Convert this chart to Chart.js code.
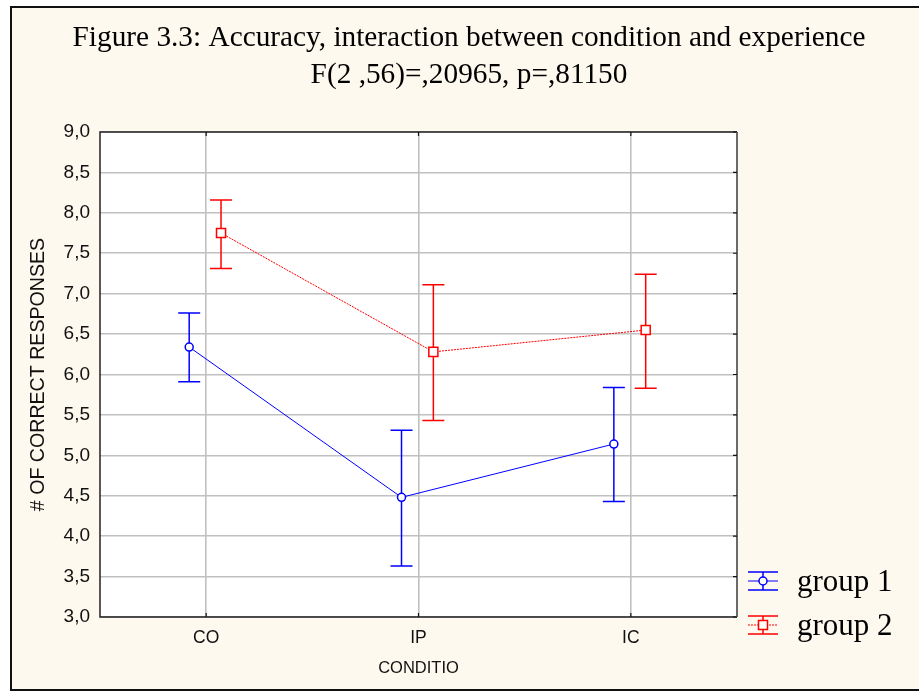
<!DOCTYPE html>
<html><head><meta charset="utf-8">
<script src="https://cdn.jsdelivr.net/npm/chart.js@4/dist/chart.umd.min.js"></script>
<style>html,body{margin:0;padding:0;background:#fff;overflow:hidden}</style>
</head><body>
<canvas id="c" width="919" height="691" style="display:block;width:919px;height:691px"></canvas>
<script>
// ---- data ----
const categories = ['CO', 'IP', 'IC'];
const seriesNames = ['group 1', 'group 2'];
const group1Mean  = [6.34, 4.48, 5.14];
const group1Upper = [6.76, 5.31, 5.84];
const group1Lower = [5.91, 3.63, 4.43];
const group2Mean  = [7.75, 6.28, 6.55];
const group2Upper = [8.16, 7.11, 7.24];
const group2Lower = [7.31, 5.43, 5.83];
const yTickLabels = ['3,0','3,5','4,0','4,5','5,0','5,5','6,0','6,5','7,0','7,5','8,0','8,5','9,0'];
const titleLines = ['Figure 3.3: Accuracy, interaction between condition and experience', 'F(2 ,56)=,20965, p=,81150'];
const xAxisTitle = 'CONDITIO';
const yAxisTitle = '# OF CORRECT RESPONSES';

// ---- style ----
const BLUE = '#0000ff', RED = '#ff0000';
const dodge = [-0.08, 0.07];
const colors = [BLUE, RED];
const lowers = [group1Lower, group2Lower];
const uppers = [group1Upper, group2Upper];
const means = [group1Mean, group2Mean];

const pagePlugin = {
  id: 'page',
  beforeDraw(chart) {
    const ctx = chart.ctx, a = chart.chartArea;
    ctx.save();
    ctx.fillStyle = '#ffffff';
    ctx.fillRect(0, 0, chart.width, chart.height);
    ctx.fillStyle = '#fef9ee';
    ctx.fillRect(11, 7, chart.width - 11, chart.height - 7);
    ctx.strokeStyle = '#111';
    ctx.lineWidth = 2;
    ctx.beginPath();
    ctx.moveTo(chart.width + 2, 7); ctx.lineTo(11, 7); ctx.lineTo(11, 690); ctx.lineTo(chart.width + 2, 690);
    ctx.stroke();
    ctx.fillStyle = '#ffffff';
    ctx.fillRect(a.left, a.top, a.right - a.left, a.bottom - a.top);
    ctx.restore();
  },
  beforeDatasetsDraw(chart) {
    const ctx = chart.ctx, xs = chart.scales.x, ys = chart.scales.y;
    ctx.save();
    ctx.lineWidth = 1.5;
    means.forEach((m, s) => {
      ctx.strokeStyle = colors[s];
      categories.forEach((c, i) => {
        const x = xs.getPixelForValue(i + dodge[s]);
        const yl = ys.getPixelForValue(lowers[s][i]);
        const yu = ys.getPixelForValue(uppers[s][i]);
        ctx.beginPath();
        ctx.moveTo(x, yl); ctx.lineTo(x, yu);
        ctx.moveTo(x - 11, yl); ctx.lineTo(x + 11, yl);
        ctx.moveTo(x - 11, yu); ctx.lineTo(x + 11, yu);
        ctx.stroke();
      });
    });
    ctx.restore();
  },
  afterDraw(chart) {
    const ctx = chart.ctx, a = chart.chartArea, xs = chart.scales.x, ys = chart.scales.y;
    ctx.save();
    // plot frame
    ctx.lineWidth = 1.5;
    ctx.strokeStyle = '#222';
    ctx.beginPath();
    ctx.moveTo(a.right, a.top); ctx.lineTo(a.left, a.top); ctx.lineTo(a.left, a.bottom); ctx.lineTo(a.right, a.bottom);
    ctx.stroke();
    ctx.strokeStyle = '#6a6a6a';
    ctx.lineWidth = 2;
    ctx.beginPath(); ctx.moveTo(a.right, a.top); ctx.lineTo(a.right, a.bottom); ctx.stroke();
    // inner tick marks
    ctx.strokeStyle = '#111'; ctx.lineWidth = 1.2;
    ctx.beginPath();
    categories.forEach((c, i) => {
      const x = xs.getPixelForValue(i);
      ctx.moveTo(x, a.bottom); ctx.lineTo(x, a.bottom - 4);
      ctx.moveTo(x, a.top); ctx.lineTo(x, a.top + 4);
    });
    yTickLabels.forEach((t, i) => {
      const y = ys.getPixelForValue(3 + i * 0.5);
      ctx.moveTo(a.right, y); ctx.lineTo(a.right - 4, y);
    });
    ctx.stroke();
    // legend
    const lx0 = 748, lx1 = 778, ly = [581, 625];
    seriesNames.forEach((name, s) => {
      const y = ly[s], cx = (lx0 + lx1) / 2;
      ctx.strokeStyle = colors[s];
      ctx.lineWidth = 1.5;
      ctx.setLineDash([]);
      ctx.beginPath();
      ctx.moveTo(lx0, y - 9); ctx.lineTo(lx1, y - 9);
      ctx.moveTo(lx0, y + 9); ctx.lineTo(lx1, y + 9);
      ctx.moveTo(cx, y - 9); ctx.lineTo(cx, y + 9);
      ctx.stroke();
      ctx.lineWidth = 1;
      if (s === 1) ctx.setLineDash([2, 1]);
      ctx.beginPath(); ctx.moveTo(lx0, y); ctx.lineTo(lx1, y); ctx.stroke();
      ctx.setLineDash([]);
      ctx.lineWidth = 1.5;
      ctx.fillStyle = '#fff';
      ctx.beginPath();
      if (s === 0) ctx.arc(cx, y, 4, 0, Math.PI * 2);
      else ctx.rect(cx - 4.5, y - 4.5, 9, 9);
      ctx.fill(); ctx.stroke();
      ctx.fillStyle = '#000';
      ctx.font = '31px "Liberation Serif", "Times New Roman", serif';
      ctx.textBaseline = 'middle';
      ctx.textAlign = 'left';
      ctx.fillText(name, 797, y + 2);
    });
    ctx.restore();
  }
};

const datasets = seriesNames.map((name, s) => ({
  label: name,
  data: categories.map((c, i) => ({ x: i + dodge[s], y: means[s][i] })),
  borderColor: colors[s],
  backgroundColor: '#ffffff',
  borderWidth: 1,
  borderDash: s === 1 ? [2, 1] : [],
  pointStyle: s === 0 ? 'circle' : 'rect',
  pointRadius: s === 0 ? 4 : 6.4,
  pointBorderWidth: 1.5,
  pointBackgroundColor: '#ffffff',
  pointBorderColor: colors[s],
  tension: 0,
  fill: false
}));

new Chart(document.getElementById('c'), {
  type: 'line',
  data: { datasets },
  plugins: [pagePlugin],
  options: {
    responsive: false,
    animation: false,
    devicePixelRatio: 1,
    layout: { padding: { left: 19, right: 0, top: 0, bottom: 0 } },
    plugins: {
      legend: { display: false },
      tooltip: { enabled: false },
      title: {
        display: true,
        text: titleLines,
        color: '#000',
        font: { family: '"Liberation Serif", "Times New Roman", serif', size: 29.3, weight: 'normal', lineHeight: 1.263 },
        padding: { top: 20, bottom: 38 }
      }
    },
    scales: {
      x: {
        type: 'linear',
        min: -0.5, max: 2.5,
        afterBuildTicks: (sc) => { sc.ticks = categories.map((c, i) => ({ value: i })); },
        afterFit: (sc) => { sc.height = 74; },
        grid: { color: '#c0c0c0', lineWidth: 1.6, drawTicks: false },
        border: { display: false },
        ticks: {
          padding: 11,
          color: '#111',
          font: { family: '"Liberation Sans", Arial, sans-serif', size: 17.5 },
          callback: (v) => categories[v]
        },
        title: {
          display: true, text: xAxisTitle, color: '#111',
          font: { family: '"Liberation Sans", Arial, sans-serif', size: 16.5 },
          padding: { top: 0, bottom: 13 }
        }
      },
      y: {
        type: 'linear',
        min: 3, max: 9,
        afterBuildTicks: (sc) => { sc.ticks = yTickLabels.map((t, i) => ({ value: 3 + i * 0.5 })); },
        afterFit: (sc) => { sc.width = 81; },
        grid: { color: '#c0c0c0', lineWidth: 1.6, drawTicks: false },
        border: { display: false },
        ticks: {
          padding: 10,
          color: '#111',
          font: { family: '"Liberation Sans", Arial, sans-serif', size: 19 },
          callback: (v) => yTickLabels[Math.round((v - 3) * 2)]
        },
        title: {
          display: true, text: yAxisTitle, color: '#111',
          font: { family: '"Liberation Sans", Arial, sans-serif', size: 19.6 },
          padding: { top: 8, bottom: 0 }
        }
      },
      side: {
        type: 'linear',
        position: 'right',
        display: true,
        afterFit: (sc) => { sc.width = 182; },
        grid: { display: false, drawTicks: false },
        border: { display: false },
        ticks: { display: false }
      }
    }
  }
});
</script>
</body></html>
